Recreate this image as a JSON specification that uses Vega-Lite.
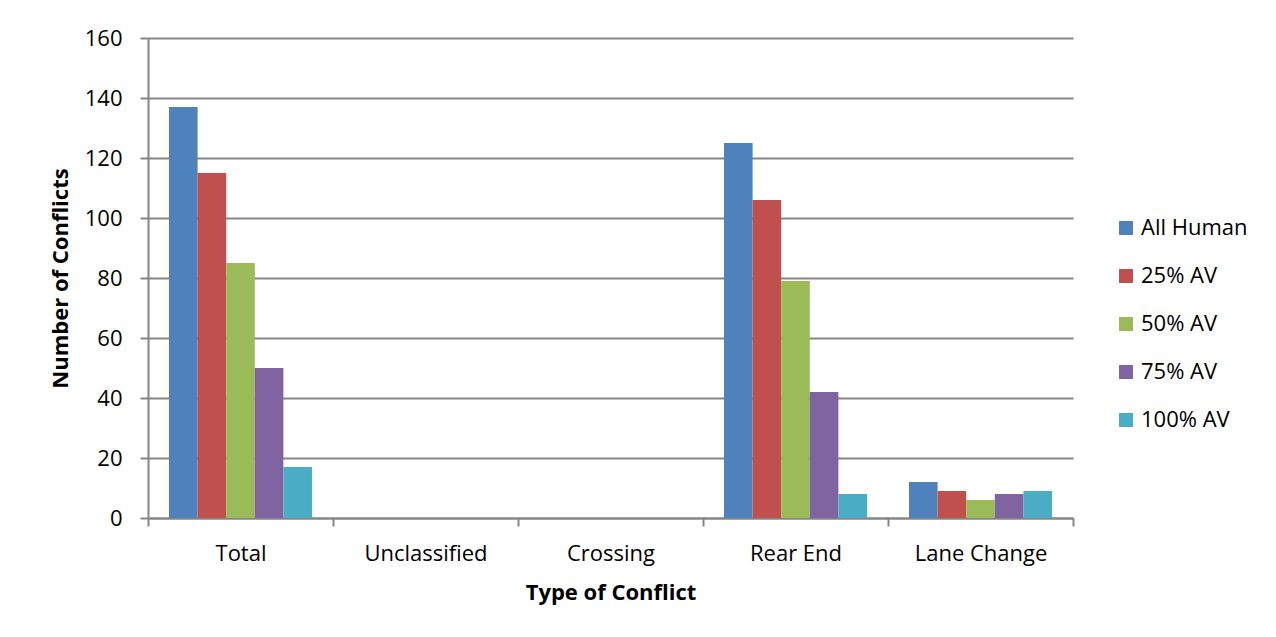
{
  "$schema": "https://vega.github.io/schema/vega-lite/v6.json",
  "width": 925,
  "height": 480,
  "autosize": "none",
  "padding": {"left": 148, "top": 38, "right": 203, "bottom": 119},
  "background": "white",
  "data": {
    "values": [
      {"type": "Total", "series": "All Human", "count": 137},
      {"type": "Total", "series": "25% AV", "count": 115},
      {"type": "Total", "series": "50% AV", "count": 85},
      {"type": "Total", "series": "75% AV", "count": 50},
      {"type": "Total", "series": "100% AV", "count": 17},
      {"type": "Unclassified", "series": "All Human", "count": 0},
      {"type": "Unclassified", "series": "25% AV", "count": 0},
      {"type": "Unclassified", "series": "50% AV", "count": 0},
      {"type": "Unclassified", "series": "75% AV", "count": 0},
      {"type": "Unclassified", "series": "100% AV", "count": 0},
      {"type": "Crossing", "series": "All Human", "count": 0},
      {"type": "Crossing", "series": "25% AV", "count": 0},
      {"type": "Crossing", "series": "50% AV", "count": 0},
      {"type": "Crossing", "series": "75% AV", "count": 0},
      {"type": "Crossing", "series": "100% AV", "count": 0},
      {"type": "Rear End", "series": "All Human", "count": 125},
      {"type": "Rear End", "series": "25% AV", "count": 106},
      {"type": "Rear End", "series": "50% AV", "count": 79},
      {"type": "Rear End", "series": "75% AV", "count": 42},
      {"type": "Rear End", "series": "100% AV", "count": 8},
      {"type": "Lane Change", "series": "All Human", "count": 12},
      {"type": "Lane Change", "series": "25% AV", "count": 9},
      {"type": "Lane Change", "series": "50% AV", "count": 6},
      {"type": "Lane Change", "series": "75% AV", "count": 8},
      {"type": "Lane Change", "series": "100% AV", "count": 9}
    ]
  },
  "mark": {"type": "bar"},
  "encoding": {
    "x": {
      "field": "type",
      "type": "nominal",
      "sort": ["Total", "Unclassified", "Crossing", "Rear End", "Lane Change"],
      "scale": {"paddingInner": 0, "paddingOuter": 0},
      "axis": {
        "title": "Type of Conflict",
        "labelAngle": 0,
        "tickBand": "extent",
        "tickSize": 8,
        "tickWidth": 2,
        "tickColor": "#868686",
        "domainColor": "#868686",
        "domainWidth": 2,
        "labelFontSize": 22,
        "labelPadding": 17,
        "titleFontSize": 22,
        "titleFontWeight": "bold",
        "titlePadding": 18,
        "grid": false
      }
    },
    "xOffset": {
      "field": "series",
      "sort": ["All Human", "25% AV", "50% AV", "75% AV", "100% AV"],
      "scale": {"paddingInner": 0, "paddingOuter": 0.735}
    },
    "y": {
      "field": "count",
      "type": "quantitative",
      "scale": {"domain": [0, 160], "nice": false},
      "axis": {
        "title": "Number of Conflicts",
        "values": [0, 20, 40, 60, 80, 100, 120, 140, 160],
        "grid": true,
        "gridColor": "#868686",
        "gridWidth": 2,
        "tickSize": 8,
        "tickWidth": 2,
        "tickColor": "#868686",
        "domainColor": "#868686",
        "domainWidth": 2,
        "labelFontSize": 22,
        "labelPadding": 18,
        "titleFontSize": 22,
        "titleFontWeight": "bold",
        "titlePadding": 12
      }
    },
    "color": {
      "field": "series",
      "type": "nominal",
      "scale": {
        "domain": ["All Human", "25% AV", "50% AV", "75% AV", "100% AV"],
        "range": ["#4F81BD", "#C0504D", "#9BBB59", "#8064A2", "#4BACC6"]
      },
      "legend": {
        "title": null,
        "orient": "none",
        "legendX": 967,
        "legendY": 179,
        "symbolType": "square",
        "symbolSize": 196,
        "symbolStrokeWidth": 0,
        "symbolOpacity": 1,
        "labelFontSize": 22,
        "labelOffset": 4,
        "rowPadding": 26,
        "labelColor": "black"
      }
    }
  },
  "config": {
    "font": "Open Sans",
    "view": {"stroke": null},
    "axis": {"labelColor": "black", "titleColor": "black"}
  }
}
